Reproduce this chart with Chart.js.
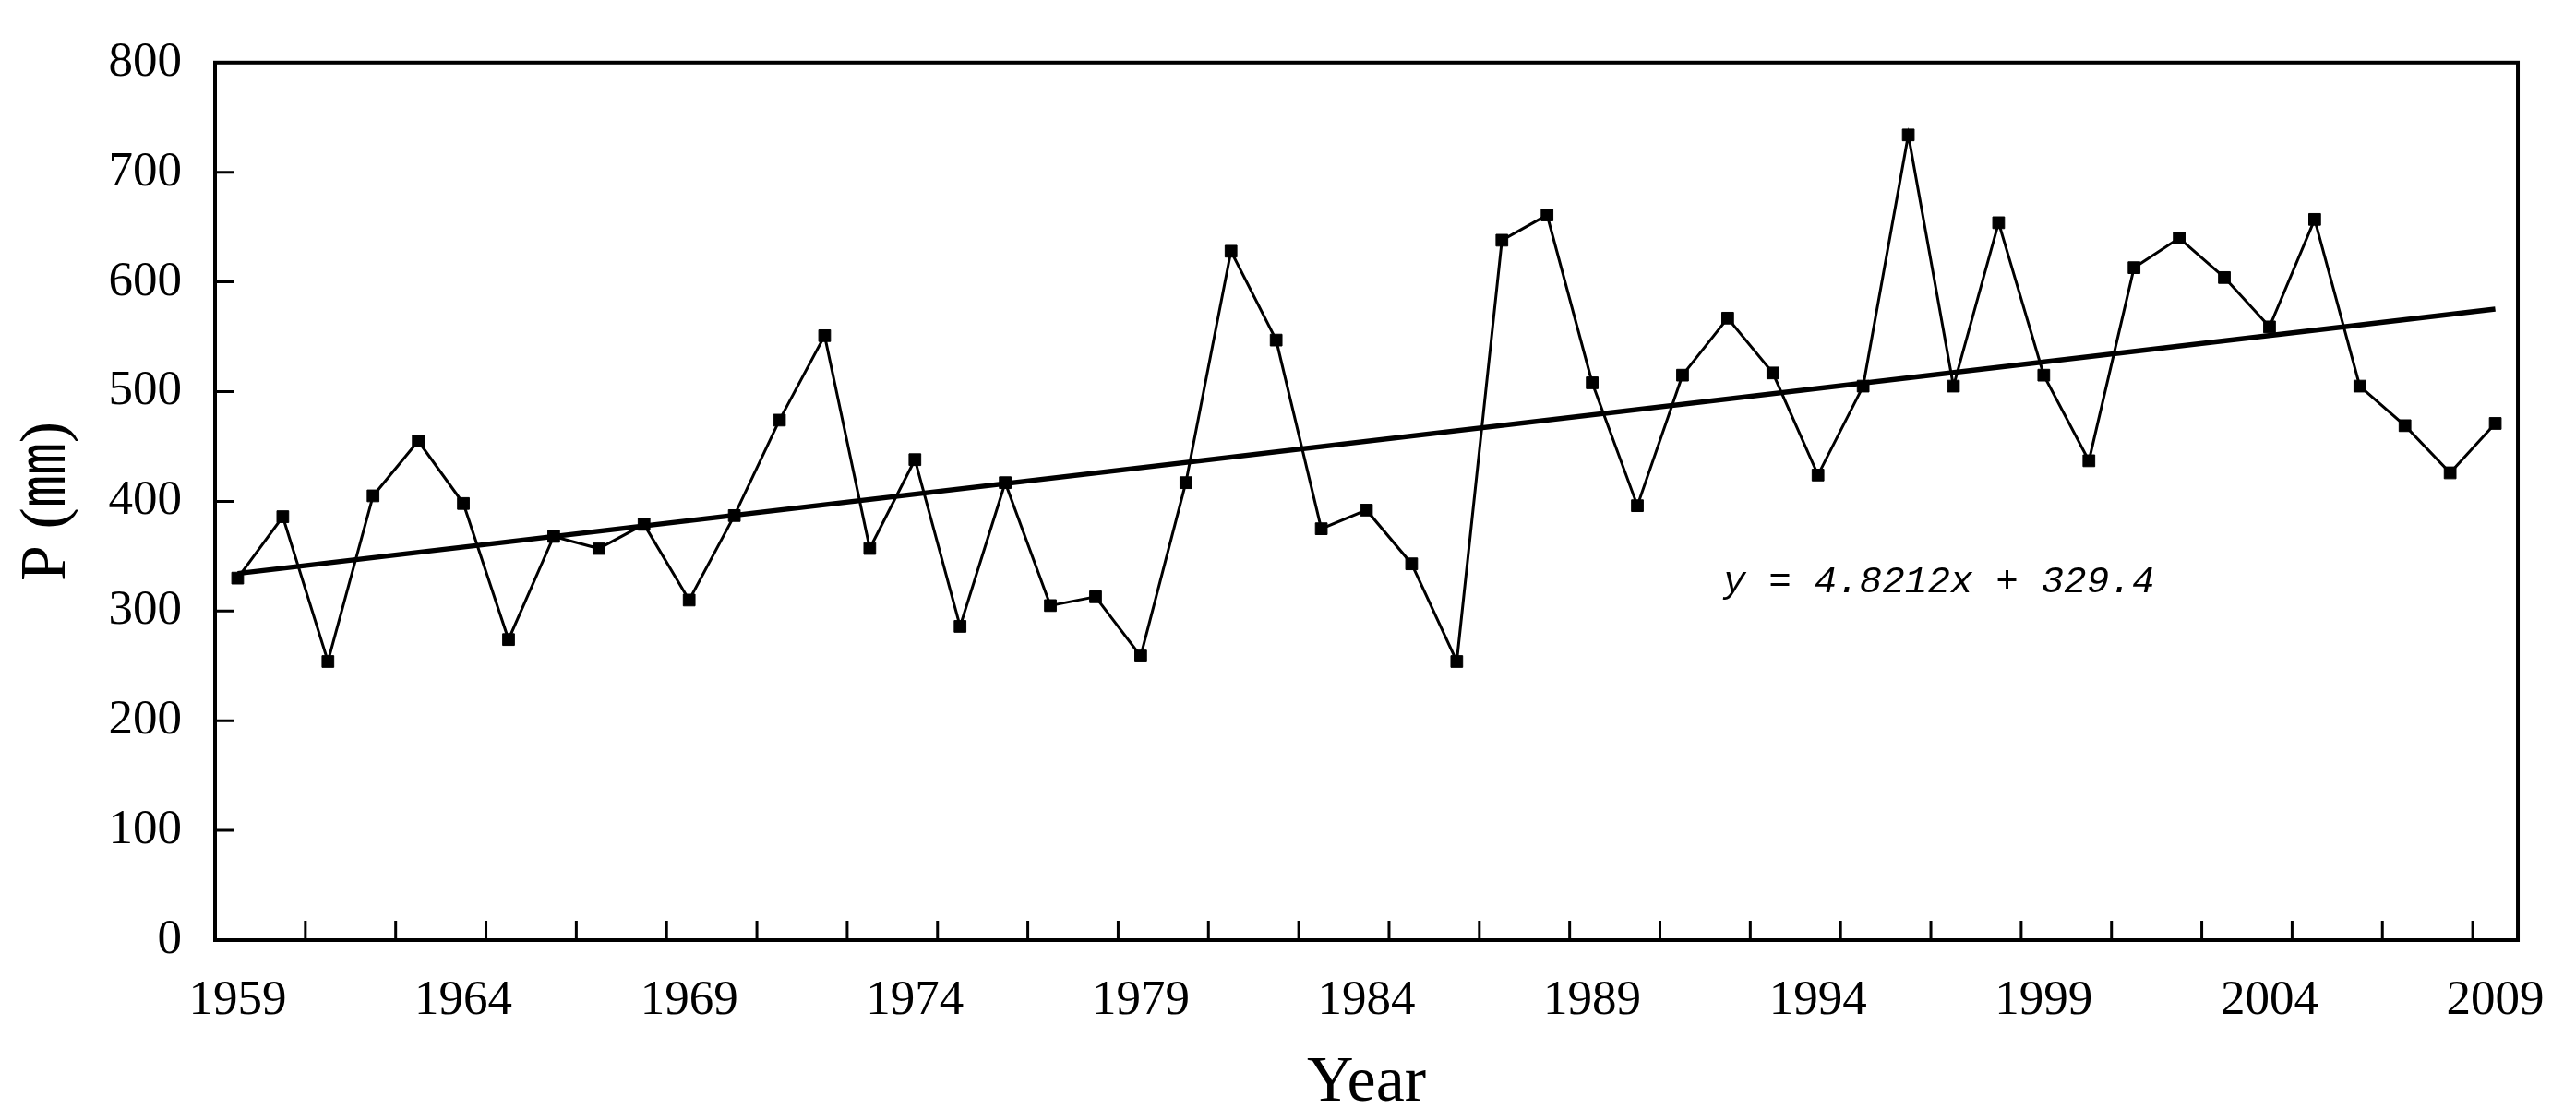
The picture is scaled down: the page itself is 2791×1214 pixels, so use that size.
<!DOCTYPE html>
<html lang="en">
<head>
<meta charset="UTF-8">
<title>P (mm) 1959-2009</title>
<script src="https://cdn.jsdelivr.net/npm/chart.js"></script>
<style>
  html, body { margin: 0; padding: 0; background: #fff; }
  #chart { display: block; }
</style>
</head>
<body>
<canvas id="chart" width="2791" height="1214" style="width:2791px;height:1214px"></canvas>
<script>
// values
const years = ['1959','1960','1961','1962','1963','1964','1965','1966','1967','1968',
               '1969','1970','1971','1972','1973','1974','1975','1976','1977','1978',
               '1979','1980','1981','1982','1983','1984','1985','1986','1987','1988',
               '1989','1990','1991','1992','1993','1994','1995','1996','1997','1998',
               '1999','2000','2001','2002','2003','2004','2005','2006','2007','2008','2009'];
const precip = [330, 386, 254, 405, 455, 398, 274, 368, 357, 379,
                310, 387, 474, 551, 357, 438, 286, 417, 305, 313,
                259, 417, 628, 547, 375, 392, 343, 254, 638, 661,
                508, 396, 515, 567, 517, 424, 505, 734, 505, 654,
                515, 437, 613, 640, 604, 559, 657, 505, 469, 426, 471];
const trendEnds = [334.2, 575.3];   // first and last year on the trend line
const yTicks = [0, 100, 200, 300, 400, 500, 600, 700, 800];
const equation = 'y = 4.8212x + 329.4';

const trendData = years.map((_, i) =>
  i === 0 ? trendEnds[0] : (i === years.length - 1 ? trendEnds[1] : null));

const serif = '"Liberation Serif", "Times New Roman", serif';

// box round the plot, inward tick marks, equation label
const frameAndTicks = {
  id: 'frameAndTicks',
  afterDraw(chart) {
    const { ctx, chartArea: a, scales: { x, y } } = chart;
    ctx.save();
    ctx.strokeStyle = '#000';
    ctx.lineWidth = 4;
    ctx.strokeRect(a.left, a.top, a.right - a.left, a.bottom - a.top);

    ctx.lineWidth = 3;
    ctx.beginPath();
    yTicks.slice(1, -1).forEach(v => {
      const py = y.getPixelForValue(v);
      ctx.moveTo(a.left, py);
      ctx.lineTo(a.left + 21, py);
    });
    const slot = x.getPixelForValue(1) - x.getPixelForValue(0);
    for (let k = 2; k < years.length; k += 2) {
      const px = x.getPixelForValue(k) - slot / 2;
      ctx.moveTo(px, a.bottom);
      ctx.lineTo(px, a.bottom - 21);
    }
    ctx.stroke();

    ctx.fillStyle = '#000';
    ctx.font = 'italic 41px "Liberation Mono", monospace';
    ctx.textAlign = 'left';
    ctx.textBaseline = 'middle';
    ctx.fillText(equation, x.getPixelForValue(32.9), y.getPixelForValue(326));
    ctx.restore();
  }
};

new Chart(document.getElementById('chart'), {
  type: 'line',
  data: {
    labels: years,
    datasets: [{
      label: 'P',
      data: precip,
      borderColor: '#000',
      borderWidth: 3,
      pointStyle: 'rect',
      pointRadius: 9,
      pointBackgroundColor: '#000',
      pointBorderColor: '#000',
      pointBorderWidth: 1,
      tension: 0
    }, {
      label: 'trend',
      data: trendData,
      borderColor: '#000',
      borderWidth: 5.5,
      pointRadius: 0,
      spanGaps: true,
      tension: 0
    }]
  },
  options: {
    responsive: false,
    animation: false,
    devicePixelRatio: 1,
    layout: { padding: { top: 48, right: 45, left: 0, bottom: 0 } },
    plugins: {
      legend: { display: false },
      tooltip: { enabled: false }
    },
    scales: {
      x: {
        type: 'category',
        offset: true,
        grid: { display: false, drawTicks: false },
        border: { display: false },
        ticks: {
          autoSkip: false,
          maxRotation: 0,
          padding: 34,
          color: '#000',
          font: { family: serif, size: 53 },
          callback: (val, i) => (i % 5 === 0 ? years[i] : '')
        },
        title: {
          display: true,
          text: 'Year',
          color: '#000',
          font: { family: serif, size: 70, lineHeight: 1.0 },
          padding: { top: 0, bottom: 4 }
        },
        afterFit(s) { s.height = 195; }
      },
      y: {
        min: 0,
        max: 800,
        grid: { display: false, drawTicks: false },
        border: { display: false },
        ticks: {
          stepSize: 100,
          padding: 36,
          color: '#000',
          font: { family: serif, size: 53 }
        },
        title: {
          display: true,
          text: 'P (㎜)',
          color: '#000',
          font: { family: '"Liberation Serif", "Noto Sans CJK SC", serif', size: 70, lineHeight: 1.0 },
          padding: { top: 17, bottom: 0 }
        },
        afterFit(s) { s.width = 233; }
      }
    }
  },
  plugins: [frameAndTicks]
});
</script>
</body>
</html>
